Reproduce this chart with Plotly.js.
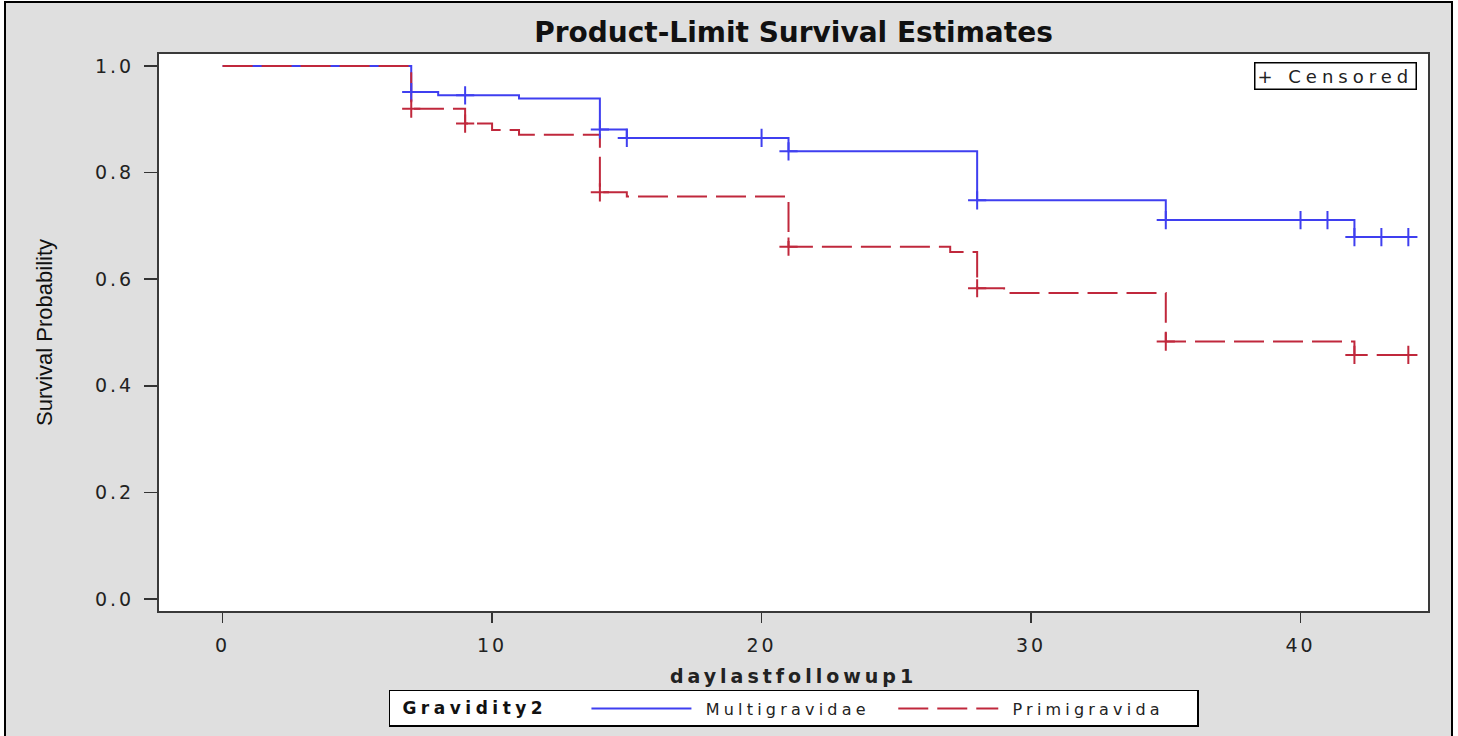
<!DOCTYPE html>
<html><head><meta charset="utf-8">
<script src="https://cdn.plot.ly/plotly-3.0.1.min.js"></script>
<style>
html,body{margin:0;padding:0;overflow:hidden;background:#fff;}
#frame{position:absolute;left:4px;top:1px;width:1445px;height:740px;border:2px solid #000;background:#dfdfdf;overflow:hidden;}
#chart{width:1445px;height:735px;}
.xtick text,.ytick text{letter-spacing:3px;}
.legendtext{letter-spacing:4.2px;}
.legendtitletext{letter-spacing:4.5px;}
.annotation-text{letter-spacing:5px;}
.xtitle{letter-spacing:4px;}
</style></head>
<body><div id="frame"><div id="chart"></div></div>
<script>
// Kaplan-Meier step curves (time, survival)
const multiTime = [0, 7, 8, 11, 14, 15, 21, 28, 35, 42, 44];
const multiSurv = [1.0, 0.951, 0.945, 0.939, 0.881, 0.865, 0.840, 0.748, 0.711, 0.679, 0.679];
const primiTime = [0, 7, 9, 10, 11, 14, 15, 21, 27, 28, 29, 35, 42, 44];
const primiSurv = [1.0, 0.920, 0.892, 0.880, 0.871, 0.763, 0.755, 0.661, 0.651, 0.583, 0.574, 0.483, 0.458, 0.458];
// Censored observations
const multiCensTime = [7, 9, 14, 15, 20, 21, 28, 35, 40, 41, 42, 43, 44];
const multiCensSurv = [0.951, 0.945, 0.881, 0.865, 0.865, 0.840, 0.748, 0.711, 0.711, 0.711, 0.679, 0.679, 0.679];
const primiCensTime = [7, 9, 14, 21, 28, 35, 42, 44];
const primiCensSurv = [0.920, 0.892, 0.763, 0.661, 0.583, 0.483, 0.458, 0.458];
const groupNames = ['Multigravidae', 'Primigravida'];
const xTicks = [0, 10, 20, 30, 40];
const yTicks = [0.0, 0.2, 0.4, 0.6, 0.8, 1.0];

const BLUE = '#3f3ff0', RED = '#c0283c';
const tickFont = {family: 'DejaVu Sans', size: 19, color: '#222'};

const traces = [
  {x: multiTime, y: multiSurv, type: 'scatter', mode: 'lines', name: ' ' + groupNames[0] + '  ',
   line: {shape: 'hv', color: BLUE, width: 2}},
  {x: primiTime, y: primiSurv, type: 'scatter', mode: 'lines', name: ' ' + groupNames[1] + '   ',
   line: {shape: 'hv', color: RED, width: 2, dash: '30px,9px'}},
  {x: multiCensTime, y: multiCensSurv, type: 'scatter', mode: 'markers', showlegend: false,
   marker: {symbol: 'cross-thin', size: 13, line: {color: BLUE, width: 2}}},
  {x: primiCensTime, y: primiCensSurv, type: 'scatter', mode: 'markers', showlegend: false,
   marker: {symbol: 'cross-thin', size: 13, line: {color: RED, width: 2}}}
];

const layout = {
  width: 1445, height: 735,
  margin: {l: 153, r: 23, t: 51, b: 126},
  paper_bgcolor: '#dfdfdf', plot_bgcolor: '#ffffff',
  title: {text: 'Product-Limit Survival Estimates', x: 0.5, xref: 'paper', xanchor: 'center',
          y: 0.9605, yref: 'container', yanchor: 'middle',
          font: {family: 'DejaVu Sans', size: 28, weight: 'bold', color: '#111'}},
  xaxis: {range: [-2.36, 44.73], tickvals: xTicks, ticktext: xTicks.map(String),
          showgrid: false, zeroline: false, showline: true, mirror: true,
          linecolor: '#3a3a3a', linewidth: 2, ticks: 'outside', ticklen: 10, tickwidth: 1.5,
          tickcolor: '#333', tickfont: tickFont, ticklabelstandoff: 6,
          title: {text: 'daylastfollowup1', standoff: 15,
                  font: {family: 'DejaVu Sans', size: 19, weight: 'bold', color: '#222'}}},
  yaxis: {range: [-0.0225, 1.0225], tickvals: yTicks, ticktext: yTicks.map(v => v.toFixed(1)),
          showgrid: false, zeroline: false, showline: true, mirror: true,
          linecolor: '#3a3a3a', linewidth: 2, ticks: 'outside', ticklen: 13, tickwidth: 1.5,
          tickcolor: '#333', tickfont: tickFont, ticklabelstandoff: 6,
          title: {text: 'Survival Probability', standoff: 36,
                  font: {family: 'Liberation Sans', size: 22, color: '#111'}}},
  showlegend: true,
  legend: {orientation: 'h', x: 0.5, xanchor: 'center', y: -0.1729, yanchor: 'middle',
           bgcolor: '#ffffff', bordercolor: '#000', borderwidth: 1.5,
           itemwidth: 100, font: {family: 'DejaVu Sans', size: 16, color: '#222'},
           title: {text: ' Gravidity2   ', side: 'left',
                   font: {family: 'DejaVu Sans', size: 17, weight: 'bold', color: '#111'}}},
  annotations: [{xref: 'paper', yref: 'paper', x: 1, y: 1, xanchor: 'right', yanchor: 'top',
                 xshift: -11, yshift: -8, text: '+ Censored', showarrow: false,
                 bgcolor: '#fff', bordercolor: '#000', borderwidth: 1.5, borderpad: 2,
                 font: {family: 'DejaVu Sans', size: 18, color: '#222'}}]
};

Plotly.newPlot('chart', traces, layout, {displayModeBar: false, staticPlot: true});
</script>
</body></html>
